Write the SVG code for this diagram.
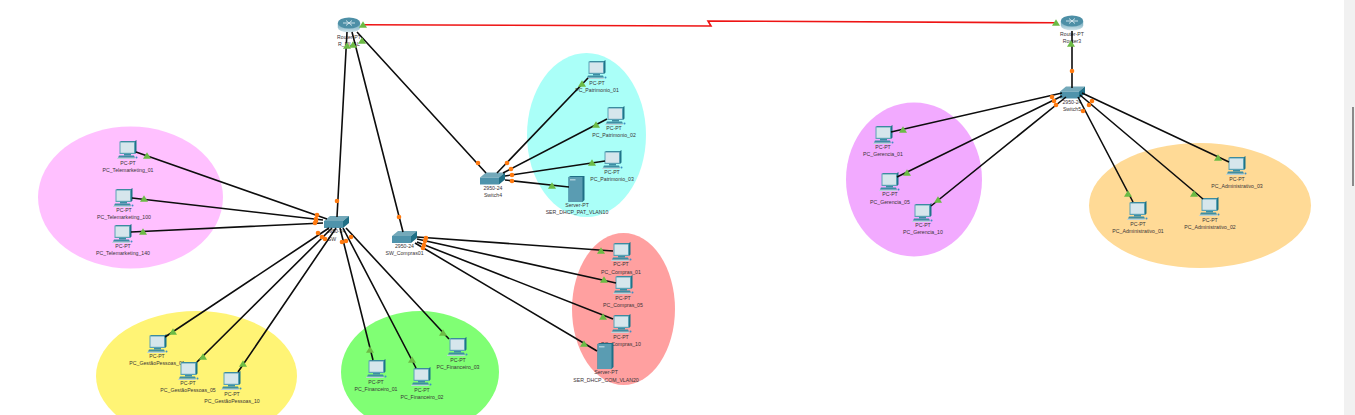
<svg xmlns="http://www.w3.org/2000/svg" xmlns:xlink="http://www.w3.org/1999/xlink" width="1355" height="415" viewBox="0 0 1355 415">
<style>
text{font-family:"Liberation Sans",Arial,sans-serif;font-size:5.2px;fill:#3a3436;text-anchor:middle}
.l{stroke:#0d0d0d;stroke-width:1.6;fill:none}
.r{stroke:#ee1414;stroke-width:1.6;fill:none}
.t{fill:#6cbb45;stroke:none}
.o{fill:#ff7a10;stroke:none}
</style>
<defs>
<linearGradient id="rg" x1="0" y1="0" x2="0" y2="1"><stop offset="0" stop-color="#5f9fb4"/><stop offset="1" stop-color="#d5e7ed"/></linearGradient>
<g id="pc">
<path d="M-6.500-9H8L9.500-10V2.500L8 4H-6.500Z" fill="#1f7488"/>
<path d="M-7.500-8.500H8V4H-7.500Z" fill="#5aa2b6"/>
<path d="M-6.500-7.500H7V2.800H-6.500Z" fill="#d6e6ec"/>
<path d="M-3 4H4V5.500H-3Z" fill="#3d8ea3"/>
<path d="M-8 5.500H7L8 7.800H-9Z" fill="#3d8ea3"/>
<path d="M-9.500 7.800H8L7.500 9H-10Z" fill="#bcd3da"/>
<circle cx="9.500" cy="7.500" r="1" fill="#3f8fc4"/>
</g>
<g id="sw">
<path d="M-12.500-1L-6.500-6H12.500L6.500-1Z" fill="#74a9ba"/>
<path d="M-12.500-1H6.500V6H-12.500Z" fill="#4f93ab"/>
<path d="M6.500-1L12.500-6V1L6.500 6Z" fill="#1f6f86"/>
</g>
<g id="rt">
<path d="M-11.200-2V2.500A11.200 5 0 0 0 11.200 2.500V-2Z" fill="url(#rg)"/>
<ellipse cx="0" cy="-2" rx="11.200" ry="5.500" fill="#4d8fa6"/>
<path d="M-6-2H6M-3-4.500L3 0.500M3-4.500L-3 0.500" stroke="#d9eaf0" stroke-width="0.900" fill="none"/>
</g>
<g id="srv">
<path d="M-8-12L-6-13H8V11L6 13H-8Z" fill="#1f6f86"/>
<path d="M-8-12H6V13H-8Z" fill="#5a9cb2"/>
<path d="M-6.500-10H-1V-8.500H-6.500Z" fill="#a9ccd8"/>
</g>
<path id="tr" d="M0-3.800L4 2.800H-4Z"/>
</defs>
<rect width="1355" height="415" fill="#fff"/>
<rect x="1344" y="0" width="11" height="415" fill="#f1f1f1"/>
<rect x="1352" y="107" width="2" height="79" fill="#8a8a8a"/>
<g id="areas">
<ellipse cx="130.500" cy="197.500" rx="92.500" ry="71" fill="#ffc0ff"/>
<ellipse cx="196.500" cy="376" rx="100.500" ry="65" fill="#fff475"/>
<ellipse cx="420" cy="372" rx="79" ry="61" fill="#80ff74"/>
<ellipse cx="586.500" cy="135" rx="59.500" ry="82" fill="#aafff8"/>
<ellipse cx="623.500" cy="309" rx="51.500" ry="76" fill="#ffa0a0"/>
<ellipse cx="914" cy="179.500" rx="68" ry="77" fill="#f2aaff"/>
<ellipse cx="1200" cy="205.500" rx="111" ry="62.500" fill="#ffda96"/>
</g>
<g id="R_FILIAL"><use href="#rt" x="349" y="25"/><text x="349" y="39">Router-PT</text><text x="349" y="46">R_FILIAL</text></g>
<g id="Router3"><use href="#rt" x="1072" y="23"/><text x="1072" y="36">Router-PT</text><text x="1072" y="43">Router3</text></g>
<g id="SW"><use href="#sw" x="336.500" y="222"/><text x="336" y="233">2950-24</text><text x="332" y="241">SW</text></g>
<g id="SW_Compras01"><use href="#sw" x="404.500" y="237"/><text x="404.500" y="248">2950-24</text><text x="404.500" y="255">SW_Compras01</text></g>
<g id="Switch4"><use href="#sw" x="492.500" y="178.500"/><text x="493" y="190">2950-24</text><text x="493" y="197">Switch4</text></g>
<g id="Switch5"><use href="#sw" x="1072.500" y="92.500"/><text x="1072" y="104">2950-24</text><text x="1072" y="111">Switch5</text></g>
<g id="PC_Telemarketing_01"><use href="#pc" x="127" y="150"/><text x="128" y="165">PC-PT</text><text x="128" y="172">PC_Telemarketing_01</text></g>
<g id="PC_Telemarketing_100"><use href="#pc" x="123" y="198"/><text x="124" y="212">PC-PT</text><text x="124" y="219">PC_Telemarketing_100</text></g>
<g id="PC_Telemarketing_140"><use href="#pc" x="122" y="234"/><text x="123" y="248">PC-PT</text><text x="123" y="255">PC_Telemarketing_140</text></g>
<g id="PC_GestaoPessoas_01"><text x="157" y="358">PC-PT</text><text x="157" y="365">PC_GestãoPessoas_01</text><use href="#pc" x="157" y="344"/></g>
<g id="PC_GestaoPessoas_05"><use href="#pc" x="188" y="371"/><text x="188" y="385">PC-PT</text><text x="188" y="392">PC_GestãoPessoas_05</text></g>
<g id="PC_GestaoPessoas_10"><use href="#pc" x="231" y="381"/><text x="232" y="396">PC-PT</text><text x="232" y="403">PC_GestãoPessoas_10</text></g>
<g id="PC_Financeiro_01"><use href="#pc" x="376" y="369"/><text x="376" y="384">PC-PT</text><text x="376" y="391">PC_Financeiro_01</text></g>
<g id="PC_Financeiro_02"><use href="#pc" x="421" y="377"/><text x="422" y="392">PC-PT</text><text x="422" y="399">PC_Financeiro_02</text></g>
<g id="PC_Financeiro_03"><use href="#pc" x="457" y="347"/><text x="458" y="362">PC-PT</text><text x="458" y="369">PC_Financeiro_03</text></g>
<g id="PC_Patrimonio_01"><use href="#pc" x="596" y="70"/><text x="597" y="85">PC-PT</text><text x="597" y="92">PC_Patrimonio_01</text></g>
<g id="PC_Patrimonio_02"><use href="#pc" x="615" y="116"/><text x="614" y="130">PC-PT</text><text x="614" y="137">PC_Patrimonio_02</text></g>
<g id="PC_Patrimonio_03"><use href="#pc" x="612" y="160"/><text x="612" y="174">PC-PT</text><text x="612" y="181">PC_Patrimonio_03</text></g>
<g id="SER_DHCP_PAT_VLAN10"><use href="#srv" x="576.500" y="189"/><text x="577" y="207">Server-PT</text><text x="577" y="214">SER_DHCP_PAT_VLAN10</text></g>
<g id="PC_Compras_01"><use href="#pc" x="621" y="252"/><text x="621" y="266">PC-PT</text><text x="621" y="274">PC_Compras_01</text></g>
<g id="PC_Compras_05"><use href="#pc" x="623" y="285"/><text x="623" y="300">PC-PT</text><text x="623" y="307">PC_Compras_05</text></g>
<g id="PC_Compras_10"><use href="#pc" x="621" y="324"/><text x="621" y="339">PC-PT</text><text x="621" y="346">PC_Compras_10</text></g>
<g id="SER_DHCP_COM_VLAN20"><use href="#srv" x="605.500" y="356"/><text x="606" y="374">Server-PT</text><text x="606" y="382">SER_DHCP_COM_VLAN20</text></g>
<g id="PC_Gerencia_01"><use href="#pc" x="883" y="135"/><text x="883" y="149">PC-PT</text><text x="883" y="156">PC_Gerencia_01</text></g>
<g id="PC_Gerencia_05"><use href="#pc" x="889" y="182"/><text x="890" y="196">PC-PT</text><text x="890" y="204">PC_Gerencia_05</text></g>
<g id="PC_Gerencia_10"><use href="#pc" x="922" y="213"/><text x="923" y="227">PC-PT</text><text x="923" y="234">PC_Gerencia_10</text></g>
<g id="PC_Administrativo_01"><use href="#pc" x="1137" y="211"/><text x="1138" y="226">PC-PT</text><text x="1138" y="233">PC_Administrativo_01</text></g>
<g id="PC_Administrativo_02"><use href="#pc" x="1209" y="207"/><text x="1210" y="222">PC-PT</text><text x="1210" y="229">PC_Administrativo_02</text></g>
<g id="PC_Administrativo_03"><use href="#pc" x="1236" y="166"/><text x="1237" y="181">PC-PT</text><text x="1237" y="188">PC_Administrativo_03</text></g>
<g id="connectors">
<path class="r" d="M362 24.800L711 26L708 21L1056 22.800"/>
<path class="l" d="M347 32L337 217M352 32L403 232M357 32L486 173"/>
<path class="l" d="M136 152L327 219M132 198L323 220M131 232L323 223"/>
<path class="l" d="M165 337L329 228M197 362L332 228M238 372L336 228M373 360L340 228M416 368L343 228M449 339L346 228"/>
<path class="l" d="M588 78L497 173M607 119L503 173M605 161L505 176M569 187L505 180"/>
<path class="l" d="M613 251L417 237M616 283L417 239M613 319L417 242M597 351L415 243"/>
<path class="l" d="M1072 31V88M891 132L1062 93M897 177L1062 96M931 206L1066 97M1133 202L1078 97M1203 199L1080 95M1229 162L1082 93"/>
<g class="t">
<use href="#tr" x="363" y="25"/><use href="#tr" x="1056" y="23"/>
<use href="#tr" x="347" y="46"/><use href="#tr" x="353" y="45"/><use href="#tr" x="362" y="41"/>
<use href="#tr" x="147" y="156"/><use href="#tr" x="144" y="199"/><use href="#tr" x="143" y="232"/>
<use href="#tr" x="173" y="332"/><use href="#tr" x="203" y="357"/><use href="#tr" x="243" y="364"/>
<use href="#tr" x="370" y="350"/><use href="#tr" x="412" y="360"/><use href="#tr" x="443" y="333"/>
<use href="#tr" x="582" y="84"/><use href="#tr" x="596" y="125"/><use href="#tr" x="592" y="163"/><use href="#tr" x="552" y="186"/>
<use href="#tr" x="601" y="251"/><use href="#tr" x="604" y="280"/><use href="#tr" x="603" y="317"/><use href="#tr" x="584" y="344"/>
<use href="#tr" x="1071" y="44"/><use href="#tr" x="903" y="130"/><use href="#tr" x="907" y="173"/><use href="#tr" x="938" y="200"/>
<use href="#tr" x="1128" y="194"/><use href="#tr" x="1194" y="194"/><use href="#tr" x="1218" y="158"/>
</g>
<g class="o">
<circle cx="337" cy="201" r="2.300"/><circle cx="399" cy="217" r="2.300"/><circle cx="478" cy="163" r="2.300"/><circle cx="1072" cy="71" r="2.300"/>
<circle cx="317" cy="215" r="2.300"/><circle cx="316" cy="219" r="2.300"/><circle cx="316" cy="221" r="2.300"/><circle cx="315" cy="223" r="2.300"/>
<circle cx="318" cy="233" r="2.300"/><circle cx="322" cy="237" r="2.300"/><circle cx="325" cy="239" r="2.300"/><circle cx="342" cy="242" r="2.300"/><circle cx="346" cy="241" r="2.300"/><circle cx="351" cy="237" r="2.300"/>
<circle cx="507" cy="163" r="2.300"/><circle cx="511" cy="169" r="2.300"/><circle cx="512" cy="175" r="2.300"/><circle cx="512" cy="181" r="2.300"/>
<circle cx="426" cy="238" r="2.300"/><circle cx="425" cy="241" r="2.300"/><circle cx="424" cy="245" r="2.300"/><circle cx="423" cy="248" r="2.300"/>
<circle cx="1052" cy="97" r="2.300"/><circle cx="1054" cy="101" r="2.300"/><circle cx="1056" cy="105" r="2.300"/><circle cx="1083" cy="111" r="2.300"/><circle cx="1089" cy="105" r="2.300"/><circle cx="1092" cy="101" r="2.300"/>
</g>
</g>
</svg>
